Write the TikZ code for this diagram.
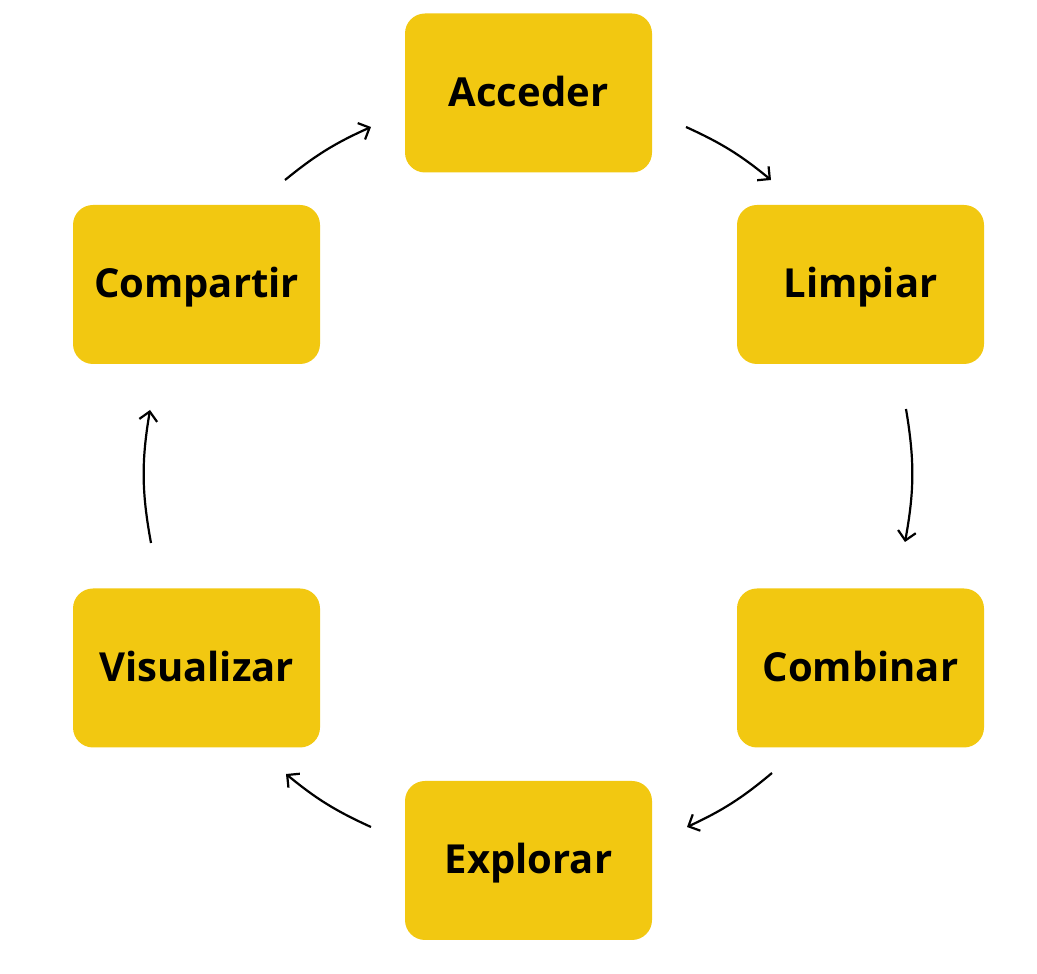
\documentclass[tikz,border=0pt]{standalone}
\usepackage{fontspec}
\setmainfont{Open Sans}
\usetikzlibrary{arrows.meta}
\definecolor{pbiyellow}{HTML}{F2C811}
\tikzset{
  stage/.style={fill=pbiyellow, rounded corners=20pt, minimum width=247pt, minimum height=159pt, inner sep=0pt, font=\fontsize{40}{44}\selectfont\bfseries, text=black, text height=27pt, text depth=0pt},
  flow/.style={line width=2.2pt, -{Straight Barb[length=9pt,width=18pt,line width=2.2pt]}},
}
\begin{document}
\begin{tikzpicture}[x=1pt,y=1pt]
\useasboundingbox (0,0) rectangle (1037,974);
\node[stage] (acc) at (528.5,881) {Acceder};
\node[stage] (lim) at (860.5,689.5) {Limpiar};
\node[stage] (com) at (860.5,306) {Combinar};
\node[stage] (exp) at (528.5,113.5) {Explorar};
\node[stage] (vis) at (196.5,306) {Visualizar};
\node[stage] (cmp) at (196.5,689.5) {Compartir};
\coordinate (a1s) at (686,847); \coordinate (a1e) at (771,794);
\coordinate (a2s) at (906,565); \coordinate (a2e) at (905,432);
\coordinate (a3s) at (772,201); \coordinate (a3e) at (687,147);
\coordinate (a4s) at (371,147); \coordinate (a4e) at (286,200);
\coordinate (a5s) at (151,431); \coordinate (a5e) at (150,564);
\coordinate (a6s) at (285,794); \coordinate (a6e) at (371,847);
\draw[flow] (a1s) to[bend left=7.5] (a1e);
\draw[flow] (a2s) to[bend left=10] (a2e);
\draw[flow] (a3s) to[bend left=7.5] (a3e);
\draw[flow] (a4s) to[bend left=7.5] (a4e);
\draw[flow] (a5s) to[bend left=10] (a5e);
\draw[flow] (a6s) to[bend left=7.5] (a6e);
\end{tikzpicture}
\end{document}
